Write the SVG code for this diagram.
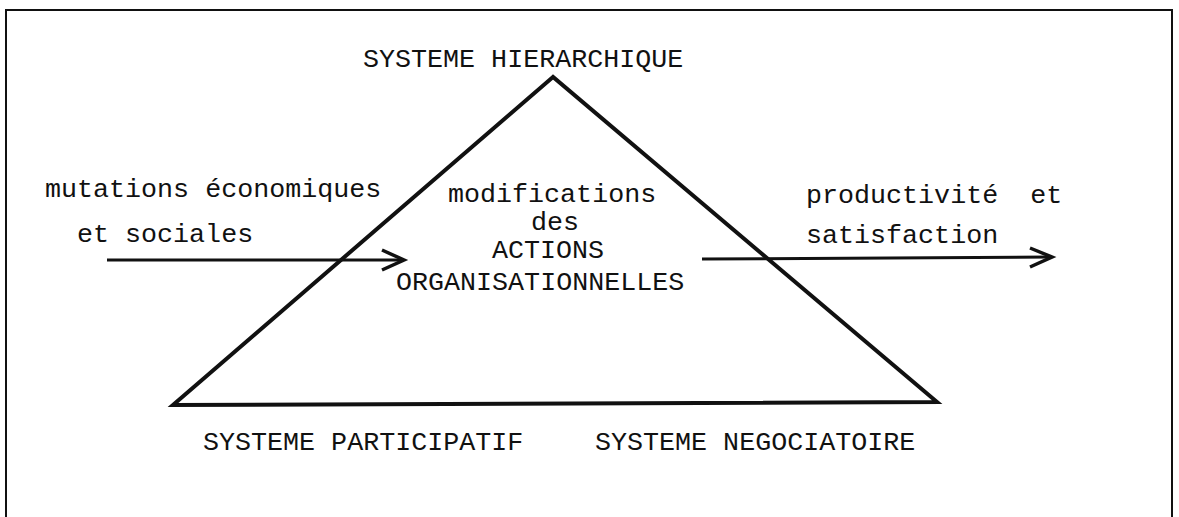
<svg xmlns="http://www.w3.org/2000/svg" width="1179" height="517" viewBox="0 0 1179 517">
<style>
text{font-family:"Liberation Mono","Courier New",monospace;font-size:26.7px;fill:#111;white-space:pre;}
.frame{fill:none;stroke:#111;stroke-width:2;}
.tri{fill:none;stroke:#111;stroke-width:4;stroke-linejoin:miter;}
.conn{fill:none;stroke:#111;stroke-width:3;}
.head{fill:none;stroke:#111;stroke-width:3.5;stroke-linejoin:miter;}
</style>
<rect width="1179" height="517" fill="#fff"/>
<path class="frame" d="M6,517 V10 H1172 V517"/>
<g id="triangle">
<polygon class="tri" points="553,77 173,405 937,402"/>
</g>
<g id="node-hierarchique"><text x="363" y="67">SYSTEME HIERARCHIQUE</text></g>
<g id="node-participatif"><text x="203" y="450">SYSTEME PARTICIPATIF</text></g>
<g id="node-negociatoire"><text x="595" y="450">SYSTEME NEGOCIATOIRE</text></g>
<g id="node-mutations">
<text x="45" y="197">mutations économiques</text>
<text x="77" y="242">et sociales</text>
</g>
<g id="node-modifications">
<text x="448" y="202">modifications</text>
<text x="531" y="230">des</text>
<text x="492" y="258">ACTIONS</text>
<text x="396" y="290">ORGANISATIONNELLES</text>
</g>
<g id="node-productivite">
<text x="806" y="203" xml:space="preserve">productivité  et</text>
<text x="806" y="243">satisfaction</text>
</g>
<g id="connectors">
<line class="conn" x1="107" y1="260" x2="402" y2="260"/>
<polyline class="head" points="382,250 404,260 382,270"/>
<line class="conn" x1="702" y1="259" x2="1050" y2="257"/>
<polyline class="head" points="1030,248 1052,257 1030,267"/>
</g>
</svg>
